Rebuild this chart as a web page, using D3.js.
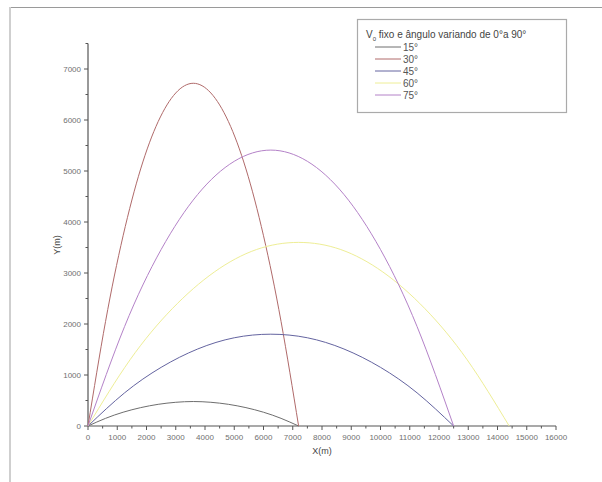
<!DOCTYPE html>
<html><head><meta charset="utf-8">
<script src="https://cdn.jsdelivr.net/npm/d3@7"></script>
<style>body{margin:0;background:#fff}svg{display:block;font-family:"Liberation Sans",Arial,sans-serif}</style>
</head><body>
<svg id="c" width="602" height="482"></svg>
<script>
const seriesNames = ["15°","30°","45°","60°","75°"];
const seriesColors = ["#6e6e6e","#b06a6a","#6464a0","#eeee96","#b482c8"];
// [x, y] pairs in metres
const s15 = [[0,0],[600,150],[1200,270],[1800,360],[2400,425],[3000,465],[3600,480],[4200,465],[4800,425],[5400,360],[6000,270],[6600,150],[7200,0]];
const s30 = [[0,0],[600,2050],[1200,3730],[1800,5040],[2400,5970],[3000,6530],[3600,6720],[4200,6530],[4800,5970],[5400,5040],[6000,3730],[6600,2050],[7200,0]];
const s45 = [[0,0],[1250,650],[2500,1150],[3750,1510],[5000,1730],[6250,1800],[7500,1730],[8750,1510],[10000,1150],[11250,650],[12500,0]];
const s60 = [[0,0],[1440,1300],[2880,2300],[4320,3020],[5760,3460],[7200,3600],[8640,3460],[10080,3020],[11520,2300],[12960,1300],[14400,0]];
const s75 = [[0,0],[1250,1950],[2500,3460],[3750,4540],[5000,5190],[6250,5410],[7500,5190],[8750,4540],[10000,3460],[11250,1950],[12500,0]];
const allSeries = [s15,s30,s45,s60,s75];
const xTicks = d3.range(0,16001,1000);
const yTicks = d3.range(0,7001,1000);
const titleMain = "V";
const titleSub = "0";
const titleRest = " fixo e ângulo variando de 0°a 90°";

const svg = d3.select("#c");
// outer frame
svg.append("line").attr("x1",9).attr("x2",602).attr("y1",7.5).attr("y2",7.5).attr("stroke","#9a9a9a").attr("stroke-width",1);
svg.append("line").attr("x1",10).attr("x2",10).attr("y1",7).attr("y2",482).attr("stroke","#cfcfcf").attr("stroke-width",2);

const x = d3.scaleLinear().domain([0,16000]).range([88,556]);
const y = d3.scaleLinear().domain([0,7500]).range([426,43.5]);

// x axis
const gx = svg.append("g").attr("transform","translate(0,426)");
gx.append("line").attr("x1",x(0)).attr("x2",x(16000)).attr("stroke","#555").attr("stroke-width",1.2);
gx.selectAll("line.mn").data(d3.range(500,16000,1000)).join("line").attr("class","mn")
  .attr("x1",d=>x(d)).attr("x2",d=>x(d)).attr("y1",0).attr("y2",2.5).attr("stroke","#555");
gx.selectAll("line.mj").data(xTicks).join("line").attr("class","mj")
  .attr("x1",d=>x(d)).attr("x2",d=>x(d)).attr("y1",0).attr("y2",4).attr("stroke","#555");
gx.selectAll("text").data(xTicks).join("text").attr("x",d=>x(d)).attr("y",14)
  .attr("text-anchor","middle").attr("font-size",8).attr("fill","#707070").text(d=>d);

// y axis
const gy = svg.append("g").attr("transform","translate(88,0)");
gy.append("line").attr("y1",y(0)).attr("y2",y(7500)).attr("stroke","#555").attr("stroke-width",1.2);
gy.selectAll("line.mn").data(d3.range(500,7501,1000)).join("line").attr("class","mn")
  .attr("y1",d=>y(d)).attr("y2",d=>y(d)).attr("x1",0).attr("x2",-2.5).attr("stroke","#555");
gy.selectAll("line.mj").data(yTicks).join("line").attr("class","mj")
  .attr("y1",d=>y(d)).attr("y2",d=>y(d)).attr("x1",0).attr("x2",-4).attr("stroke","#555");
gy.selectAll("text").data(yTicks).join("text").attr("x",-7).attr("y",d=>y(d)+3)
  .attr("text-anchor","end").attr("font-size",8).attr("fill","#707070").text(d=>d);

// axis titles
svg.append("text").attr("x",322).attr("y",454).attr("text-anchor","middle").attr("font-size",9).attr("fill","#444").text("X(m)");
svg.append("text").attr("transform","translate(60,245) rotate(-90)").attr("text-anchor","middle").attr("font-size",9).attr("fill","#444").text("Y(m)");

// curves
const line = d3.line().x(d=>x(d[0])).y(d=>y(d[1])).curve(d3.curveNatural);
svg.selectAll("path.s").data(allSeries).join("path").attr("class","s")
  .attr("d",line).attr("fill","none").attr("stroke",(d,i)=>seriesColors[i]).attr("stroke-width",1);

// legend
const lg = svg.append("g");
lg.append("rect").attr("x",357.5).attr("y",19.5).attr("width",209).attr("height",93)
  .attr("fill","#fff").attr("stroke","#aaa").attr("stroke-width",1.2);
const t = lg.append("text").attr("x",366).attr("y",38).attr("font-size",10).attr("fill","#444");
t.append("tspan").text(titleMain);
t.append("tspan").attr("font-size",6).attr("dy",3).text(titleSub);
t.append("tspan").attr("dy",-3).text(titleRest);
const rows = lg.selectAll("g.r").data(seriesNames).join("g").attr("class","r")
  .attr("transform",(d,i)=>`translate(0,${47+i*12})`);
rows.append("line").attr("x1",375).attr("x2",401).attr("stroke",(d,i)=>seriesColors[i]).attr("stroke-width",1);
rows.append("text").attr("x",403).attr("y",3.5).attr("font-size",10).attr("fill","#555").text(d=>d);
</script>
</body></html>
